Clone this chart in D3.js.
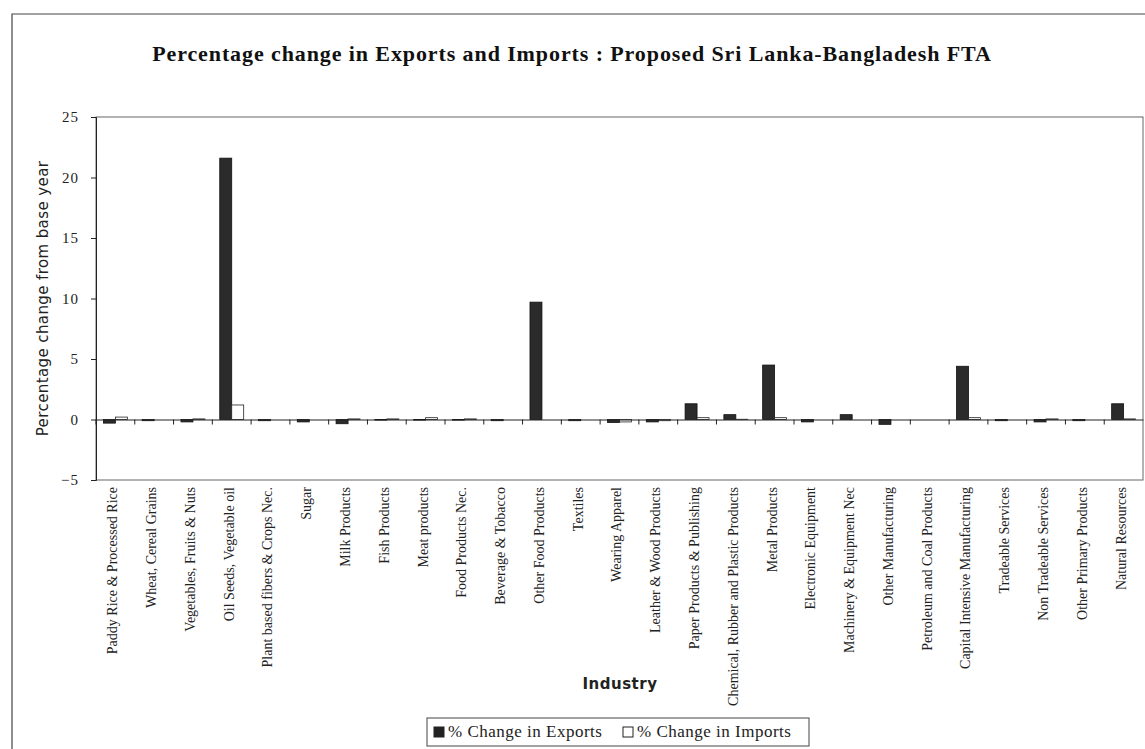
<!DOCTYPE html>
<html>
<head>
<meta charset="utf-8">
<script src="https://cdn.jsdelivr.net/npm/d3@7"></script>
<style>
  body { margin: 0; background: #fff; }
  svg { display: block; font-family: "Liberation Serif", "DejaVu Serif", serif; }
</style>
</head>
<body>
<svg id="chart"></svg>
<script>
const industries = [
  "Paddy Rice & Processed Rice", "Wheat, Cereal Grains", "Vegetables, Fruits & Nuts",
  "Oil Seeds, Vegetable oil", "Plant based fibers & Crops Nec.", "Sugar", "Milk Products",
  "Fish Products", "Meat products", "Food Products Nec.", "Beverage & Tobacco",
  "Other Food Products", "Textiles", "Wearing Apparel", "Leather & Wood Products",
  "Paper Products & Publishing", "Chemical, Rubber and Plastic Products", "Metal Products",
  "Electronic Equipment", "Machinery & Equipment Nec", "Other Manufacturing",
  "Petroleum and Coal Products", "Capital Intensive Manufacturing", "Tradeable Services",
  "Non Tradeable Services", "Other Primary Products", "Natural Resources"
];
const exportsChange = [
  -0.3, -0.1, -0.2, 21.6, -0.1, -0.2, -0.35, -0.05, -0.05, -0.05, -0.1,
  9.7, -0.1, -0.25, -0.2, 1.3, 0.4, 4.5, -0.2, 0.4, -0.4,
  0, 4.4, -0.1, -0.2, -0.1, 1.3
];
const importsChange = [
  0.2, 0, 0.05, 1.2, 0, 0, 0.05, 0.05, 0.15, 0.05, 0,
  0, 0, -0.2, -0.1, 0.15, 0.02, 0.15, 0, 0, 0,
  0, 0.15, 0, 0.05, 0, 0.05
];
const yTicks = [-5, 0, 5, 10, 15, 20, 25];
const seriesNames = ["% Change in Exports", "% Change in Imports"];

const width = 1145, height = 749;
const margin = { top: 117, right: 2, left: 96, bottom: 269 };
const plotW = width - margin.left - margin.right;
const plotH = height - margin.top - margin.bottom;

const svg = d3.select("#chart").attr("width", width).attr("height", height);

// outer chart border
svg.append("path")
  .attr("d", "M12," + height + "V14H" + width)
  .attr("fill", "none")
  .attr("stroke", "#444")
  .attr("stroke-width", 1.2);

svg.append("text")
  .attr("x", 572)
  .attr("y", 61)
  .attr("text-anchor", "middle")
  .style("font-size", "22px")
  .style("font-weight", "bold")
  .style("letter-spacing", "0.9px")
  .attr("fill", "#111")
  .text("Percentage change in Exports and Imports : Proposed Sri Lanka-Bangladesh FTA");

const chart = svg.append("g")
  .attr("transform", "translate(" + margin.left + "," + margin.top + ")");

const x = d3.scaleBand().domain(industries).range([0, plotW]);
const xInner = d3.scaleBand().domain([0, 1]).range([0, x.bandwidth()]).paddingOuter(0.62);
const y = d3.scaleLinear().domain([-5, 25]).range([plotH, 0]);

// plot frame
chart.append("rect")
  .attr("x", 0).attr("y", 0)
  .attr("width", plotW).attr("height", plotH)
  .attr("fill", "none")
  .attr("stroke", "#666")
  .attr("stroke-width", 1);

const yAxis = chart.append("g")
  .call(d3.axisLeft(y).tickValues(yTicks).tickSize(5).tickPadding(12));
yAxis.select(".domain").attr("stroke", "#222");
yAxis.selectAll(".tick line").attr("stroke", "#222");
yAxis.selectAll("text")
  .style("font-size", "15px")
  .style("letter-spacing", "1px")
  .style("font-family", "Liberation Serif, serif")
  .attr("fill", "#222");

const groups = chart.selectAll(".cat")
  .data(industries)
  .enter()
  .append("g")
  .attr("class", "cat")
  .attr("transform", function (d) {
    return "translate(" + x(d) + ",0)";
  });

groups.append("rect")
  .attr("x", xInner(0))
  .attr("width", xInner.bandwidth())
  .attr("y", function (d, i) {
    return y(Math.max(0, exportsChange[i]));
  })
  .attr("height", function (d, i) {
    return Math.abs(y(exportsChange[i]) - y(0));
  })
  .attr("fill", "#2b2b2b")
  .attr("stroke", "#111")
  .attr("stroke-width", 0.8);

groups.append("rect")
  .attr("x", xInner(1))
  .attr("width", xInner.bandwidth())
  .attr("y", function (d, i) {
    return y(Math.max(0, importsChange[i]));
  })
  .attr("height", function (d, i) {
    return Math.abs(y(importsChange[i]) - y(0));
  })
  .attr("fill", "#fff")
  .attr("stroke", "#222")
  .attr("stroke-width", 0.8);

// zero line with category tick marks
const zeroAxis = chart.append("g")
  .attr("transform", "translate(0," + y(0) + ")")
  .call(d3.axisBottom(x).tickSize(0).tickFormat(""));
zeroAxis.select(".domain").attr("stroke", "#222");
zeroAxis.selectAll(".tick").remove();
zeroAxis.selectAll(".boundary")
  .data(industries)
  .enter()
  .append("line")
  .attr("x1", function (d) { return x(d); })
  .attr("x2", function (d) { return x(d); })
  .attr("y1", 0)
  .attr("y2", 5)
  .attr("stroke", "#222");

// category labels along the bottom
const xAxis = chart.append("g")
  .attr("transform", "translate(0," + plotH + ")")
  .call(d3.axisBottom(x).tickSize(0).tickPadding(0));
xAxis.select(".domain").remove();
xAxis.selectAll("text")
  .attr("transform", "rotate(-90)")
  .attr("x", -7)
  .attr("y", -3)
  .attr("dy", "0.35em")
  .style("text-anchor", "end")
  .style("font-size", "14px")
  .style("font-family", "Liberation Serif, serif")
  .attr("fill", "#222");

svg.append("text")
  .attr("transform", "rotate(-90)")
  .attr("x", -(margin.top + y(10)))
  .attr("y", 48)
  .attr("text-anchor", "middle")
  .style("font-family", "DejaVu Sans, sans-serif")
  .style("font-size", "15px")
  .style("letter-spacing", "0.4px")
  .attr("fill", "#222")
  .text("Percentage change from base year");

svg.append("text")
  .attr("x", 620)
  .attr("y", 689)
  .attr("text-anchor", "middle")
  .style("font-weight", "bold")
  .style("font-family", "DejaVu Sans, sans-serif")
  .style("font-size", "15px")
  .style("letter-spacing", "0.5px")
  .attr("fill", "#222")
  .text("Industry");

// legend
const legend = svg.append("g").attr("transform", "translate(427,718)");
legend.append("rect")
  .attr("width", 382).attr("height", 28)
  .attr("fill", "#fff")
  .attr("stroke", "#444");
const items = legend.selectAll(".item")
  .data(seriesNames)
  .enter()
  .append("g")
  .attr("transform", function (d, i) {
    return "translate(" + (7 + i * 189) + ",0)";
  });
items.append("rect")
  .attr("x", 0).attr("y", 9)
  .attr("width", 10).attr("height", 10)
  .attr("fill", function (d, i) { return i === 0 ? "#222" : "#fff"; })
  .attr("stroke", "#222");
items.append("text")
  .attr("x", 14)
  .attr("y", 19)
  .style("font-size", "17px")
  .style("letter-spacing", "0.5px")
  .attr("fill", "#222")
  .text(function (d) { return d; });
</script>
</body>
</html>
